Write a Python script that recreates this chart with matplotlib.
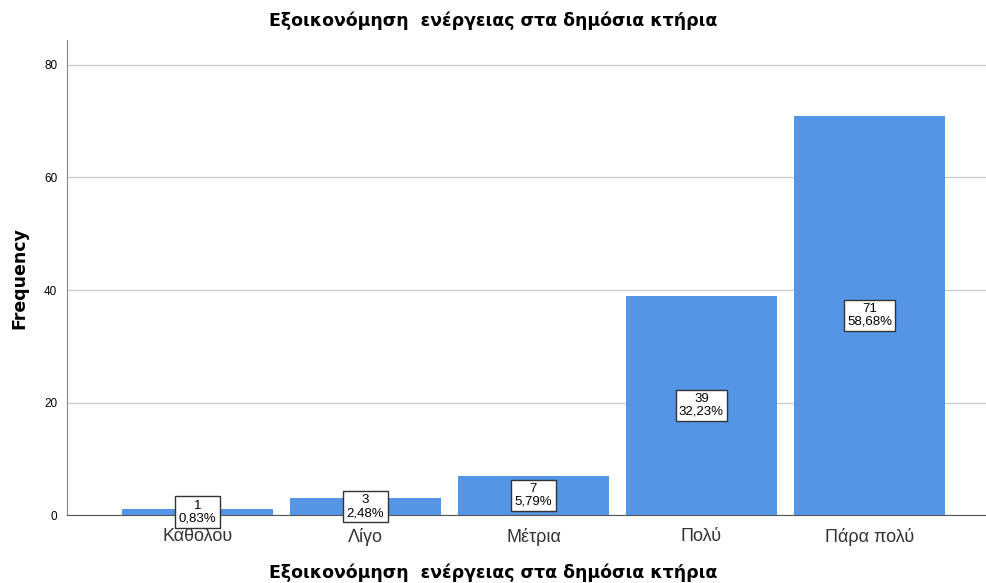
import matplotlib
matplotlib.use("Agg")
import matplotlib.pyplot as plt

# data
categories = ["Καθολου", "Λίγο", "Μέτρια", "Πολύ", "Πάρα πολύ"]
counts = [1, 3, 7, 39, 71]
percents = ["0,83%", "2,48%", "5,79%", "32,23%", "58,68%"]
title = "Εξοικονόμηση  ενέργειας στα δημόσια κτήρια"

plt.rcParams['font.family'] = ['Liberation Sans', 'DejaVu Sans']

fig = plt.figure(figsize=(9.87, 5.83), dpi=100)
ax = fig.add_axes([0.0679, 0.1166, 0.9321, 0.8144])

x = list(range(len(categories)))
ax.bar(x, counts, width=0.9, color='#5595E5', zorder=2)

# labels in the middle of each bar
for xi, c, p in zip(x, counts, percents):
    ax.text(xi, c / 2, f"{c}\n{p}", ha='center', va='center', fontsize=9.5,
            linespacing=1.1, zorder=3,
            bbox=dict(boxstyle='square,pad=0.25', facecolor='white',
                      edgecolor='#333333', linewidth=1))

ax.set_xlim(-0.777, 4.70)
ax.set_ylim(0, 84.4)
ax.set_yticks([0, 20, 40, 60, 80])
ax.set_xticks(x)
ax.set_xticklabels(categories, fontsize=13, color='#333333')
ax.tick_params(axis='x', length=0, pad=9)
ax.tick_params(axis='y', length=0, labelsize=8.5, pad=7)

ax.yaxis.grid(True, color='#cccccc', linewidth=1, zorder=0)
ax.set_axisbelow(True)
for s in ['top', 'right']:
    ax.spines[s].set_visible(False)
ax.spines['left'].set_color('#888888')
ax.spines['bottom'].set_color('#555555')

bold = dict(family='DejaVu Sans', fontweight='bold', fontsize=12.5)
ax.set_ylabel("Frequency", labelpad=11, **bold)
fig.text(0.5, 0.017, title, ha='center', va='center', **bold)
fig.suptitle(title, y=0.98, **bold)

plt.savefig("out.png", dpi=100)
